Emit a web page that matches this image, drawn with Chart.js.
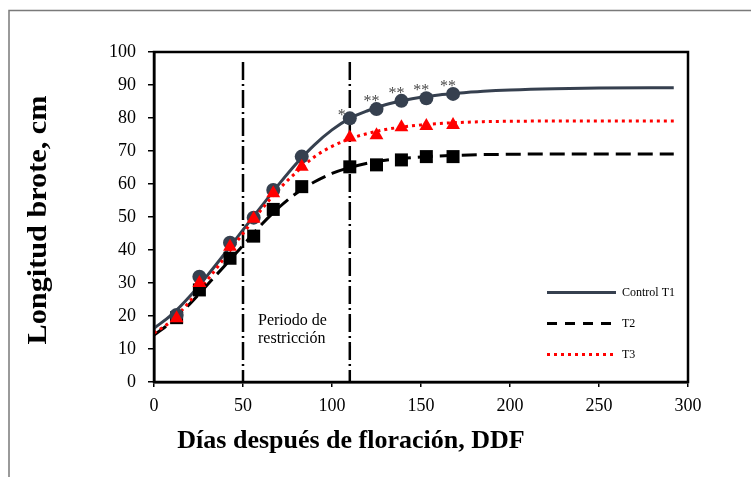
<!DOCTYPE html>
<html>
<head>
<meta charset="utf-8">
<script src="https://cdn.jsdelivr.net/npm/chart.js@4.4.1/dist/chart.umd.min.js"></script>
<style>
  html, body { margin: 0; padding: 0; background: #fff; overflow: hidden; }
  #wrap { position: relative; width: 751px; height: 477px; }
</style>
</head>
<body>
<div id="wrap"><canvas id="growthChart" width="751" height="477"></canvas></div>
<script>
// measured shoot length (cm) by days after flowering
const sampleDays = [12.7, 25.5, 42.7, 56, 67, 83, 110, 125, 139, 153, 168];
const controlT1 = [20.3, 31.9, 42.2, 49.8, 58.2, 68.3, 79.9, 82.7, 85.2, 86.0, 87.3];
const t2 = [19.5, 27.9, 37.5, 44.2, 52.3, 59.2, 65.2, 65.8, 67.3, 68.3, 68.3];
const t3 = [19.3, 30.0, 41.0, 49.5, 57.2, 65.2, 74.1, 74.8, 77.2, 77.6, 77.9];
const significance = ['', '', '', '', '', '', '*', '**', '**', '**', '**'];

// fitted growth curves
const fitDays = [0, 10, 20, 30, 40, 50, 60, 70, 80, 90, 100, 110, 120, 130, 140, 150, 160, 170, 185, 200, 225, 250, 292];
const fitControlT1 = [16.3, 20.4, 25.9, 32.3, 39.1, 46.1, 53.0, 59.8, 66.2, 71.8, 76.4, 79.9, 82.2, 84.0, 85.3, 86.3, 87.0, 87.5, 88.1, 88.5, 88.9, 89.1, 89.2];
const fitT2 = [14.2, 18.3, 23.6, 29.5, 35.4, 41.4, 47.5, 52.8, 57.2, 60.6, 63.2, 65.0, 66.3, 67.2, 67.8, 68.2, 68.5, 68.7, 68.9, 69.0, 69.1, 69.1, 69.1];
const fitT3 = [14.8, 18.6, 24.4, 30.9, 37.9, 45.0, 52.0, 58.3, 63.6, 68.2, 71.4, 73.7, 75.3, 76.5, 77.3, 77.9, 78.3, 78.6, 78.9, 79.0, 79.1, 79.1, 79.1];

// start and end of the restriction period
const restrictionDays = [50, 110];
const restrictionTop = 97;

const SLATE = '#36404f';
const pts = (xs, ys) => xs.map((x, i) => ({ x: x, y: ys[i] }));

Chart.defaults.font.family = "'Liberation Serif', 'Times New Roman', serif";
Chart.defaults.color = '#000';

const curve = (label, data, color, dash, order) => ({
  label: label,
  data: data,
  showLine: true,
  borderColor: color,
  borderWidth: 3,
  borderDash: dash,
  pointRadius: 0,
  tension: 0.4,
  cubicInterpolationMode: 'monotone',
  order: order
});

const marks = (label, data, color, style, radius, order) => ({
  label: label,
  data: data,
  showLine: false,
  pointStyle: style,
  pointRadius: radius,
  backgroundColor: color,
  borderColor: color,
  borderWidth: 0,
  order: order
});

const datasets = [
  curve('Control T1', pts(fitDays, fitControlT1), SLATE, [], 8),
  curve('T2', pts(fitDays, fitT2), '#000', [15, 7], 9),
  curve('T3', pts(fitDays, fitT3), '#ff0000', [3, 4], 7),
  marks('T2 obs', pts(sampleDays, t2), '#000', 'rect', 9.2, 3),
  marks('Control T1 obs', pts(sampleDays, controlT1), SLATE, 'circle', 7, 2),
  marks('T3 obs', pts(sampleDays, t3), '#ff0000', 'triangle', 8, 1)
];
restrictionDays.forEach(d => {
  datasets.push({
    label: 'restriction',
    data: [{ x: d, y: restrictionTop }, { x: d, y: 0 }],
    showLine: true,
    borderColor: '#000',
    borderWidth: 2.5,
    borderDash: [18, 4, 2, 4],
    pointRadius: 0,
    order: 10
  });
});

// gray outline around the whole figure
const outline = {
  id: 'outline',
  beforeDraw(chart) {
    const ctx = chart.ctx;
    ctx.save();
    ctx.strokeStyle = '#7a7a7a';
    ctx.lineWidth = 1.5;
    ctx.strokeRect(9, 10.5, 900, 600);
    ctx.restore();
  }
};

// box, legend, asterisks and axis titles
const decorations = {
  id: 'decorations',
  afterDraw(chart) {
    const ctx = chart.ctx;
    const area = chart.chartArea;
    const xs = chart.scales.x, ys = chart.scales.y;
    ctx.save();

    ctx.strokeStyle = '#000';
    ctx.lineWidth = 2.5;
    ctx.strokeRect(area.left, area.top, area.right - area.left, area.bottom - area.top);

    // significance marks over the control points
    ctx.fillStyle = '#4a4a4a';
    ctx.font = "16px 'Liberation Serif'";
    ctx.textAlign = 'center';
    ctx.textBaseline = 'alphabetic';
    significance.forEach((s, i) => {
      if (!s) return;
      const px = xs.getPixelForValue(sampleDays[i]);
      const py = ys.getPixelForValue(controlT1[i]);
      const dx = s.length === 1 ? -8 : -5;
      const dy = s.length === 1 ? -6 : -11;
      ctx.fillText(s, px + dx, py + dy + 8);
    });

    // legend
    const legend = [0, 1, 2];
    ctx.font = "12px 'Liberation Serif'";
    ctx.textAlign = 'left';
    ctx.textBaseline = 'middle';
    legend.forEach((di, k) => {
      const ds = chart.data.datasets[di];
      const y = 292.5 + k * 31;
      ctx.beginPath();
      ctx.strokeStyle = ds.borderColor;
      ctx.lineWidth = 3;
      ctx.setLineDash(di === 1 ? [10, 8] : ds.borderDash);
      ctx.moveTo(547, y);
      ctx.lineTo(616, y);
      ctx.stroke();
      ctx.setLineDash([]);
      ctx.fillStyle = '#000';
      ctx.fillText(ds.label, 622, y);
    });

    // restriction period note
    ctx.font = "16px 'Liberation Serif'";
    ctx.fillText('Periodo de', 258, 321);
    ctx.fillText('restricción', 258, 339);

    // axis titles
    ctx.fillStyle = '#000';
    ctx.font = "bold 26px 'Liberation Serif'";
    ctx.textAlign = 'center';
    ctx.fillText('Días después de floración, DDF', 351, 441);
    ctx.translate(39, 220);
    ctx.rotate(-Math.PI / 2);
    ctx.scale(1.12, 1);
    ctx.font = "bold 27px 'Liberation Serif'";
    ctx.fillText('Longitud brote, cm', 0, 0);

    ctx.restore();
  }
};

new Chart(document.getElementById('growthChart'), {
  type: 'scatter',
  data: { datasets: datasets },
  options: {
    responsive: false,
    animation: false,
    layout: { padding: { top: 52, right: 63, left: 0, bottom: 0 } },
    plugins: { legend: { display: false }, tooltip: { enabled: false } },
    scales: {
      x: {
        min: 0, max: 300,
        afterFit(scale) { scale.height = 95; },
        ticks: { stepSize: 50, padding: 8, font: { size: 18 }, color: '#000' },
        grid: { drawOnChartArea: false, drawTicks: true, tickLength: 5, color: '#000', lineWidth: 1.5 },
        border: { color: '#000', width: 2.5 }
      },
      y: {
        min: 0, max: 100,
        afterFit(scale) { scale.width = 154; },
        ticks: { stepSize: 10, padding: 12, font: { size: 18 }, color: '#000' },
        grid: { drawOnChartArea: false, drawTicks: true, tickLength: 6, color: '#000', lineWidth: 1.5 },
        border: { color: '#000', width: 2.5 }
      }
    }
  },
  plugins: [outline, decorations]
});
</script>
</body>
</html>
